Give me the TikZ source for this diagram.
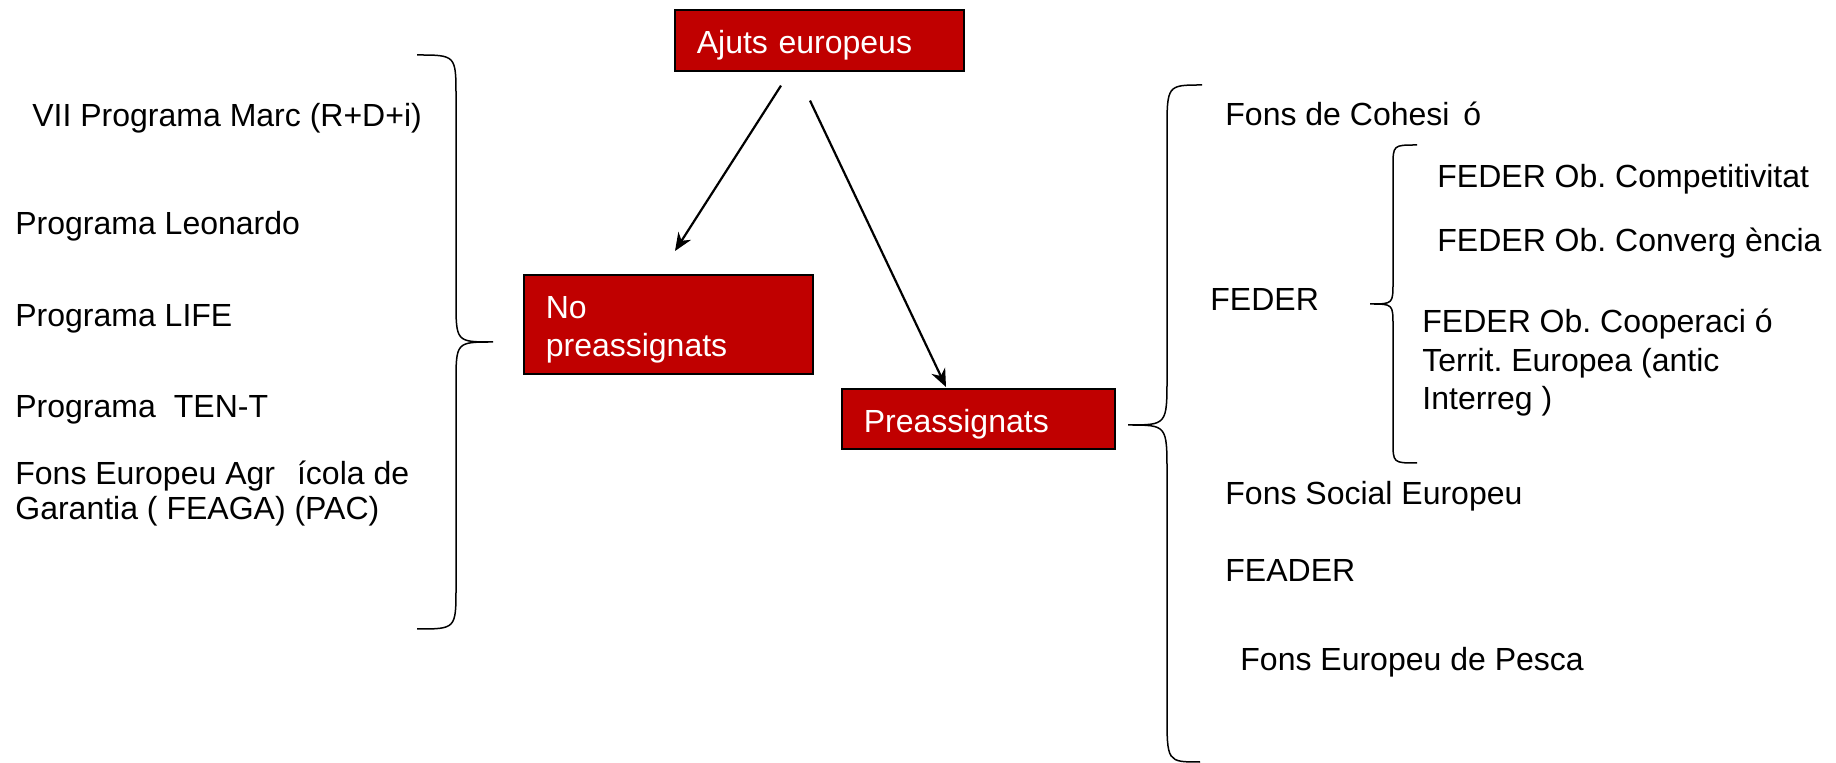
\documentclass[tikz,border=0pt]{standalone}
\usepackage{fontspec}
\setmainfont{Liberation Sans}
\frenchspacing
\usetikzlibrary{arrows.meta}
\definecolor{vermell}{RGB}{192,0,0}
\tikzset{
  caixa/.style={draw=black, line width=0.8pt, fill=vermell, text=white, anchor=north west,
    inner xsep=11pt, inner ysep=0pt, align=left, font=\fontsize{16}{19}\selectfont},
  fons/.style={anchor=base west, inner sep=0pt, align=left, font=\fontsize{16}{19}\selectfont},
  clau/.style={line width=0.75pt},
  fletxa/.style={-{Stealth[length=9pt,width=7.5pt]}, line width=1.1pt},
}
\begin{document}
\begin{tikzpicture}[x=0.5pt, y=-0.5pt]
    \useasboundingbox (0,0) rectangle (1836,763);
    % caixes
    \node[caixa, text width=122.5pt, minimum height=30.5pt, text height=13.5pt, text depth=0pt] (ajuts) at (674,9) {Ajuts europeus};
    \node[caixa, text width=122.5pt, minimum height=49.5pt, text height=11.5pt, text depth=17pt] (nopre) at (523,274) {No\\preassignats};
    \node[caixa, text width=114.5pt, minimum height=30pt, text height=14pt, text depth=0pt] (pre) at (841,388) {Preassignats};

    % fletxes
    \coordinate (s1) at ([xshift=53.5pt, yshift=-7pt]ajuts.south west);
    \coordinate (s2) at ([xshift=68pt, yshift=-14.5pt]ajuts.south west);
    \coordinate (t1) at ([xshift=76pt, yshift=11.5pt]nopre.north west);
    \coordinate (t2) at ([xshift=52.5pt, yshift=0.5pt]pre.north west);
    \draw[fletxa] (s1) -- (t1);
    \draw[fletxa] (s2) -- (t2);

    % no preassignats
    \foreach \x/\y/\nom/\txt in {
        32/127/vii/{VII Programa Marc (R+D+i)},
        15/235/leo/{Programa Leonardo},
        15/327/life/{Programa LIFE},
        15/418/tent/{Programa\hspace{9pt}TEN-T}
    } {
        \node[fons] (\nom) at (\x,\y) {\txt};
    }
    \node[fons, font=\fontsize{16}{17.5}\selectfont] (feaga) at (15,520) {Fons Europeu Agr\hspace{11pt}ícola de\\Garantia ( FEAGA) (PAC)};
    \draw[clau] (417,55) .. controls (456,55) .. (456,97) -- (456,300)
        .. controls (456,342) .. (493,342) .. controls (456,342) .. (456,384)
        -- (456,587) .. controls (456,629) .. (417,629);

    % preassignats
    \foreach \x/\y/\nom/\txt in {
        1225/126/cohesio/{Fons de Cohesi\hspace{7pt}ó},
        1210/311/feder/{FEDER},
        1437/188/compet/{FEDER Ob. Competitivitat},
        1437/252/conver/{FEDER Ob. Converg ència},
        1225/505/social/{Fons Social Europeu},
        1225/582/feader/{FEADER},
        1240/671/pesca/{Fons Europeu de Pesca}
    } {
        \node[fons] (\nom) at (\x,\y) {\txt};
    }
    \node[fons, font=\fontsize{16}{19.25}\selectfont] (coop) at (1422,410) {FEDER Ob. Cooperaci ó\\Territ. Europea (antic\\Interreg )};
    \draw[clau] (1202,85) .. controls (1167,85) .. (1167,132) -- (1167,377)
        .. controls (1167,425) .. (1128,425) .. controls (1167,425) .. (1167,473)
        -- (1167,713) .. controls (1167,762) .. (1200,762);
    \draw[clau] (1417,145) .. controls (1393,145) .. (1393,167) -- (1393,282)
        .. controls (1393,304) .. (1370,304) .. controls (1393,304) .. (1393,326)
        -- (1393,441) .. controls (1393,463) .. (1417,463);
\end{tikzpicture}
\end{document}
